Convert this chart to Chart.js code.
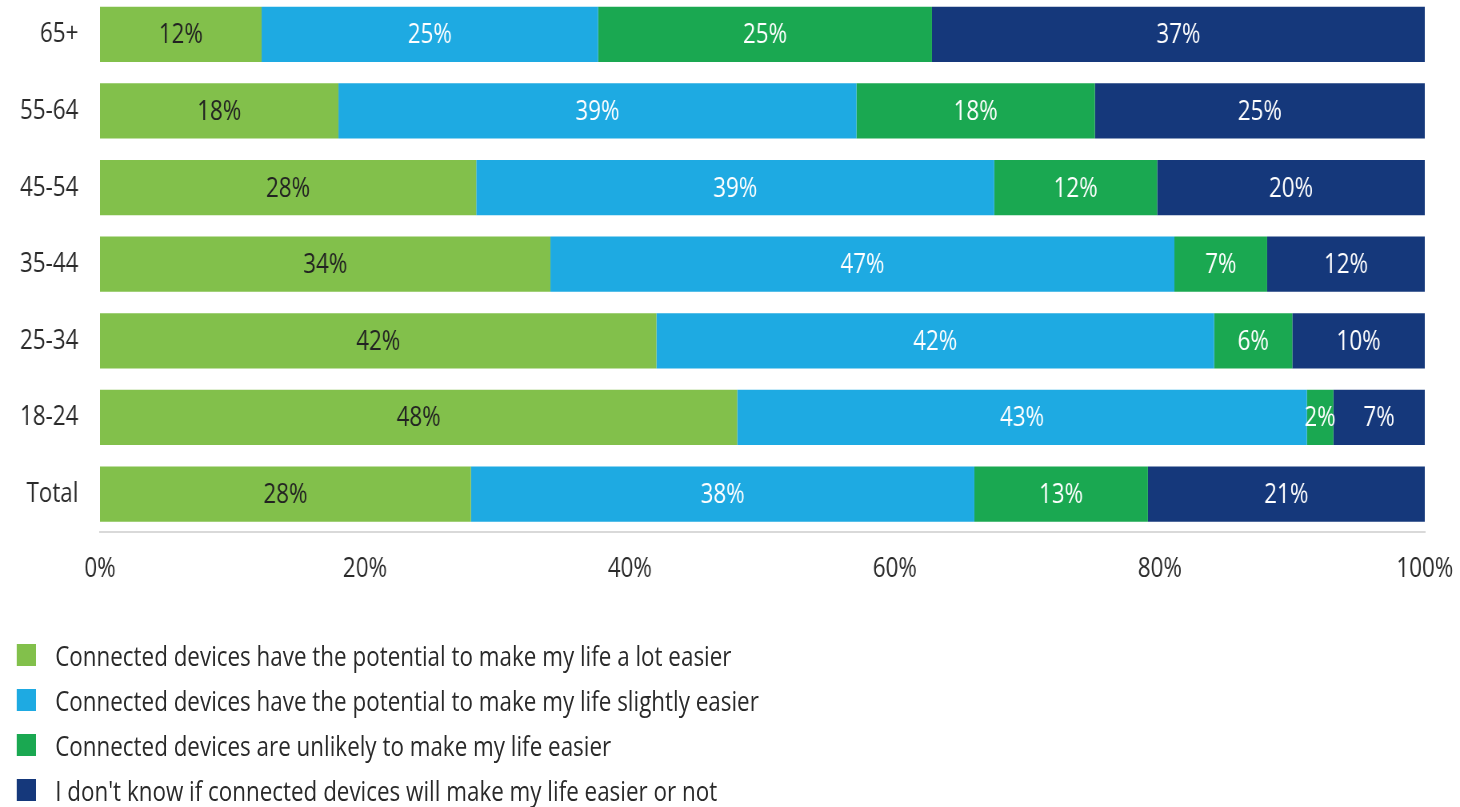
<!DOCTYPE html>
<html>
<head>
<meta charset="utf-8">
<script src="https://cdn.jsdelivr.net/npm/chart.js@4.4.0/dist/chart.umd.min.js"></script>
<style>
  html, body { margin: 0; padding: 0; background: #fff; overflow: hidden; }
  body { width: 1460px; height: 807px; }
  #wrap {
    position: absolute; left: 0; top: 0;
    width: 1825px; height: 807px;
    transform: scaleX(0.8); transform-origin: 0 0;
    font-family: "Open Sans", sans-serif;
  }
  #box { position: absolute; left: 0; top: -4px; width: 1825px; height: 610px; }
  #legend { position: absolute; left: 21px; top: 632px; }
  .item { height: 45px; display: flex; align-items: center; font-size: 28px; color: #2a2a2a; }
  .sw { width: 24px; height: 22px; margin-right: 24px; }
</style>
</head>
<body>
<div id="wrap">
  <div id="box"><canvas id="chart"></canvas></div>
  <div id="legend"></div>
</div>
<script>
const categories = ['65+', '55-64', '45-54', '35-44', '25-34', '18-24', 'Total'];

const seriesNames = [
    'Connected devices have the potential to make my life a lot easier',
    'Connected devices have the potential to make my life slightly easier',
    'Connected devices are unlikely to make my life easier',
    "I don't know if connected devices will make my life easier or not"
];

const aLotEasier     = [12.2, 18.0, 28.4, 34.0, 42.0, 48.1, 28.0];
const slightlyEasier = [25.4, 39.1, 39.1, 47.1, 42.1, 43.0, 38.0];
const unlikely       = [25.2, 18.0, 12.3,  7.0,  5.9,  2.0, 13.1];
const dontKnow       = [37.2, 24.9, 20.2, 11.9, 10.0,  6.9, 20.9];

const tickValues = [0, 20, 40, 60, 80, 100];

const colors = ['#82c04b', '#1eaae2', '#1aa851', '#15387b'];
const labelColors = ['#222222', '#ffffff', '#ffffff', '#ffffff'];

// draw the % labels in the middle of every segment
const barLabels = {
    id: 'barLabels',
    afterDatasetsDraw(chart) {
        const ctx = chart.ctx;
        ctx.save();
        ctx.font = '28px "Open Sans"';
        ctx.textAlign = 'center';
        ctx.textBaseline = 'middle';
        chart.data.datasets.forEach((ds, i) => {
            const meta = chart.getDatasetMeta(i);
            meta.data.forEach((bar, j) => {
                ctx.fillStyle = labelColors[i];
                ctx.fillText(Math.round(ds.data[j]) + '%', (bar.x + bar.base) / 2, bar.y + 1);
            });
        });
        ctx.restore();
    }
};

const allSeries = [aLotEasier, slightlyEasier, unlikely, dontKnow];

const chart = new Chart(document.getElementById('chart'), {
    type: 'bar',
    data: {
        labels: categories,
        datasets: allSeries.map((d, i) => ({
            label: seriesNames[i],
            data: d,
            backgroundColor: colors[i],
            borderWidth: 0,
            barPercentage: 0.72,
            categoryPercentage: 1
        }))
    },
    options: {
        indexAxis: 'y',
        responsive: true,
        maintainAspectRatio: false,
        animation: false,
        layout: { padding: { left: 0, right: 44, top: 0, bottom: 0 } },
        scales: {
            x: {
                stacked: true,
                min: 0,
                max: 100,
                afterBuildTicks: (scale) => { scale.ticks = tickValues.map(v => ({ value: v })); },
                afterFit: (scale) => { scale.paddingLeft = 0; scale.paddingRight = 0; },
                ticks: {
                    padding: 20,
                    color: '#2a2a2a',
                    font: { family: 'Open Sans', size: 28 },
                    callback: function(value) {
                        return value + '%';
                    }
                },
                grid: { display: false, drawTicks: false },
                border: { display: true, color: '#d9d9d9', width: 2 }
            },
            y: {
                stacked: true,
                afterFit: (scale) => {
                    scale.width = 125;
                    scale.paddingTop = 0;
                    scale.paddingBottom = 0;
                },
                ticks: {
                    padding: 27,
                    color: '#2a2a2a',
                    font: { family: 'Open Sans', size: 28 }
                },
                grid: { display: false, drawTicks: false },
                border: { display: false }
            }
        },
        plugins: {
            legend: { display: false },
            tooltip: { enabled: false }
        }
    },
    plugins: [barLabels]
});

// legend, one item per row
const legendEl = document.getElementById('legend');
seriesNames.forEach((name, i) => {
    const row = document.createElement('div');
    row.className = 'item';
    const sw = document.createElement('span');
    sw.className = 'sw';
    sw.style.background = colors[i];
    const txt = document.createElement('span');
    txt.textContent = name;
    row.appendChild(sw);
    row.appendChild(txt);
    legendEl.appendChild(row);
});
</script>
</body>
</html>
